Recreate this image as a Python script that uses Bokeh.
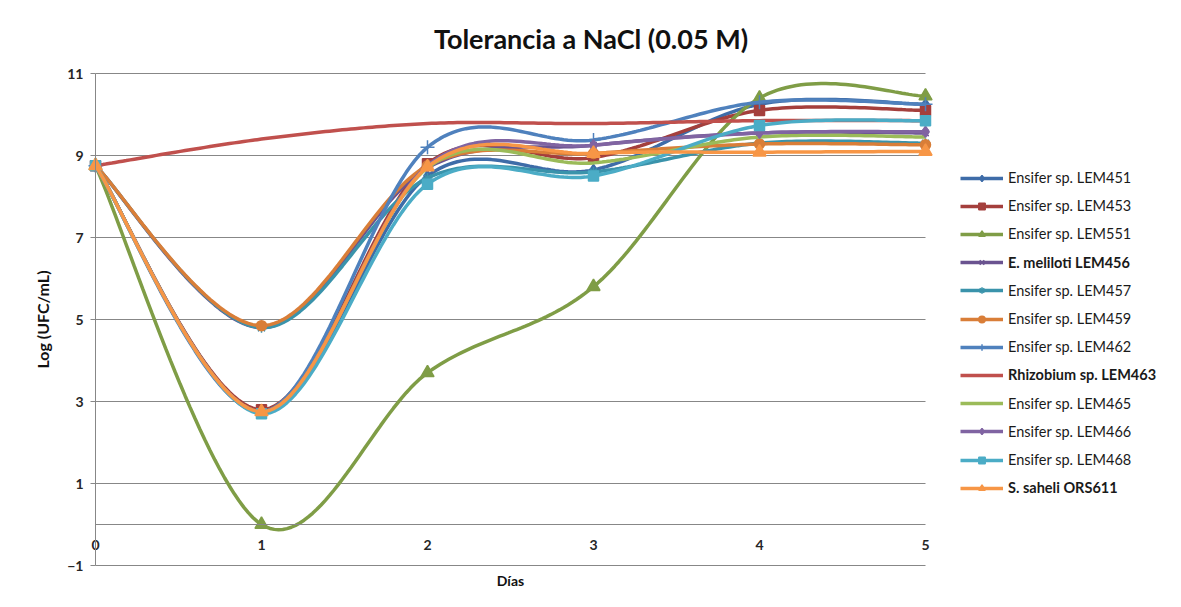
import numpy as np
from bokeh.plotting import figure
from bokeh.models import Range1d, FixedTicker, Legend, LegendItem, Label, LinearAxis
from bokeh.embed import file_html
from bokeh.resources import INLINE

# ---------------- data ----------------
days = [0, 1, 2, 3, 4, 5]
y_ticks = [-1, 1, 3, 5, 7, 9, 11]

names = ["Ensifer sp. LEM451", "Ensifer sp. LEM453", "Ensifer sp. LEM551",
         "E. meliloti LEM456", "Ensifer sp. LEM457", "Ensifer sp. LEM459",
         "Ensifer sp. LEM462", "Rhizobium sp. LEM463", "Ensifer sp. LEM465",
         "Ensifer sp. LEM466", "Ensifer sp. LEM468", "S. saheli ORS611"]

LEM451 = [8.75, 2.75, 8.50, 8.65, 10.25, 10.25]
LEM453 = [8.75, 2.80, 8.80, 8.95, 10.10, 10.10]
LEM551 = [8.75, 0.00, 3.70, 5.80, 10.40, 10.45]
LEM456 = [8.75, 4.80, 8.70, 9.25, 9.55, 9.55]
LEM457 = [8.75, 4.80, 8.45, 8.60, 9.30, 9.30]
LEM459 = [8.75, 4.85, 8.75, 9.05, 9.28, 9.26]
LEM462 = [8.75, 2.75, 9.20, 9.38, 10.30, 10.25]
LEM463 = [8.75, 9.40, 9.78, 9.78, 9.85, 9.85]
LEM465 = [8.75, 2.75, 8.70, 8.82, 9.45, 9.45]
LEM466 = [8.75, 2.75, 8.75, 9.25, 9.55, 9.58]
LEM468 = [8.75, 2.70, 8.30, 8.50, 9.73, 9.85]
ORS611 = [8.75, 2.75, 8.72, 9.05, 9.08, 9.10]

values = [LEM451, LEM453, LEM551, LEM456, LEM457, LEM459,
          LEM462, LEM463, LEM465, LEM466, LEM468, ORS611]

colors = ["#3E6CA8", "#A43F3C", "#7F9D46", "#6A5390", "#3A93AB", "#D97E38",
          "#4F81BD", "#C0504D", "#9BBB59", "#8064A2", "#4BACC6", "#F79646"]
markers = ["diamond", "square", "triangle", "x", "asterisk", "circle",
           "cross", None, None, "diamond", "square", "triangle"]
msizes = [11, 10, 13, 9, 10, 10, 14, 0, 0, 11, 10, 13]
bold = [False, False, False, True, False, False, False, True, False, False, False, True]


def smooth(xs, ys, n=40):
    """Excel-like smoothed line (cardinal Bezier through the points)."""
    P = list(zip(xs, ys))
    ox, oy = [], []
    t = np.linspace(0, 1, n)
    for i in range(len(P) - 1):
        p0 = P[i - 1] if i > 0 else P[i]
        p1, p2 = P[i], P[i + 1]
        p3 = P[i + 2] if i + 2 < len(P) else P[i + 1]
        c1 = (p1[0] + (p2[0] - p0[0]) / 6, p1[1] + (p2[1] - p0[1]) / 6)
        c2 = (p2[0] - (p3[0] - p1[0]) / 6, p2[1] - (p3[1] - p1[1]) / 6)
        a, b, c, d = (1 - t) ** 3, 3 * (1 - t) ** 2 * t, 3 * (1 - t) * t ** 2, t ** 3
        ox.extend(a * p1[0] + b * c1[0] + c * c2[0] + d * p2[0])
        oy.extend(a * p1[1] + b * c1[1] + c * c2[1] + d * p2[1])
    return ox, oy


FONT = "Lato"
GRID = "#878787"
W, H = 1181, 607
# plot-area placement in pixels (left, right, top, bottom)
PL, PR, PT, PB = 95, 925, 73, 565
xs_px = (PR - PL) / (days[-1] - days[0])
ys_px = (PB - PT) / (y_ticks[-1] - y_ticks[0])

p = figure(width=W, height=H, output_backend="svg", toolbar_location=None,
           x_axis_location=None, y_axis_location=None,
           x_range=Range1d(days[0] - PL / xs_px, days[0] + (W - PL) / xs_px),
           y_range=Range1d(y_ticks[-1] - (H - PT) / ys_px, y_ticks[-1] + PT / ys_px),
           min_border_left=0, min_border_right=0, min_border_top=0,
           min_border_bottom=0)
p.outline_line_color = None
p.background_fill_color = "white"
p.border_fill_color = "white"
p.grid.visible = False

# horizontal gridlines
p.segment(x0=[days[0]] * len(y_ticks), x1=[days[-1]] * len(y_ticks),
          y0=y_ticks, y1=y_ticks, line_color=GRID, line_width=1)

# axes
xax = LinearAxis(fixed_location=0, ticker=FixedTicker(ticks=days),
                 bounds=(days[0], days[-1]))
xax.axis_line_color = GRID
xax.major_tick_line_color = None
xax.minor_tick_line_color = None
xax.major_label_standoff = 9
xax.major_label_text_font = FONT
xax.major_label_text_font_style = "bold"
xax.major_label_text_font_size = "14px"
xax.major_label_text_color = "#262626"
p.add_layout(xax, "below")

yax = LinearAxis(fixed_location=0, ticker=FixedTicker(ticks=y_ticks),
                 bounds=(y_ticks[0], y_ticks[-1]))
yax.axis_line_color = GRID
yax.major_tick_line_color = GRID
yax.major_tick_out = 5
yax.major_tick_in = 0
yax.minor_tick_line_color = None
yax.major_label_standoff = 7
yax.major_label_text_font = FONT
yax.major_label_text_font_style = "bold"
yax.major_label_text_font_size = "14px"
yax.major_label_text_color = "#262626"
yax.axis_label = "Log (UFC/mL)"
yax.axis_label_text_font = FONT
yax.axis_label_text_font_style = "bold"
yax.axis_label_text_font_size = "16px"
yax.axis_label_text_color = "#111111"
yax.axis_label_standoff = 12
p.add_layout(yax, "left")

# series
legends = []
for i, (nm, vals) in enumerate(zip(names, values)):
    sx, sy = smooth(days, vals)
    lr = p.line(sx, sy, line_color=colors[i], line_width=3.5)
    rends = [lr]
    if markers[i]:
        mr = p.scatter(days, vals, marker=markers[i], size=msizes[i],
                       fill_color=colors[i], line_color=colors[i], line_width=1.5)
        rends.append(mr)
    legends.append((nm, rends, bold[i]))

# legend (one entry per Legend so some labels can be bold)
top0 = 178
step = 28.2
for i, (nm, rends, b) in enumerate(legends):
    yc = top0 + i * step
    leg = Legend(items=[LegendItem(label=nm, renderers=rends)],
                 location=(960, H - (yc + 8)),
                 padding=0, margin=0, spacing=0,
                 glyph_width=43, glyph_height=16, label_height=16,
                 label_standoff=5, border_line_color=None,
                 background_fill_alpha=0,
                 label_text_font=FONT, label_text_font_size="14.5px",
                 label_text_color="#1a1a1a",
                 label_text_font_style="bold" if b else "normal")
    p.add_layout(leg, "center")

# titles
p.add_layout(Label(x=W / 2, y=H - 38, x_units="screen", y_units="screen",
                   text="Tolerancia a NaCl (0.05 M)",
                   text_align="center", text_baseline="middle",
                   text_font=FONT, text_font_style="bold",
                   text_font_size="27px", text_color="#111111"))
p.add_layout(Label(x=(PL + PR) / 2, y=H - 580, x_units="screen", y_units="screen",
                   text="Días",
                   text_align="center", text_baseline="middle",
                   text_font=FONT, text_font_style="bold",
                   text_font_size="14px", text_color="#111111"))

open("out.html", "w").write(file_html(p, INLINE))
